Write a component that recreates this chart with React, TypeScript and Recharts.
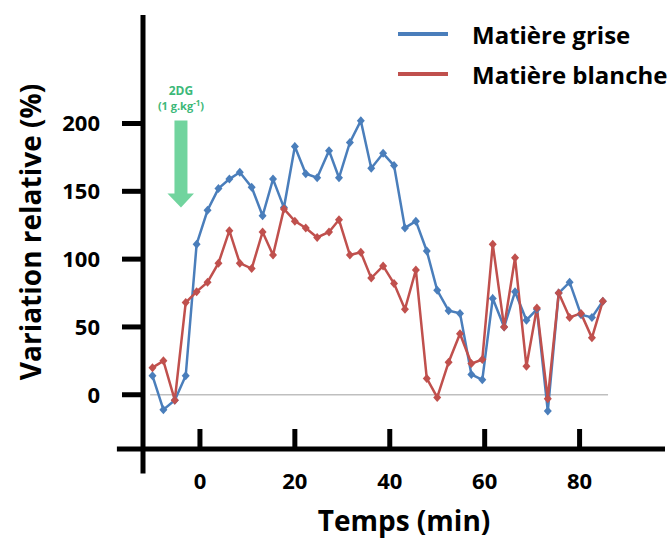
import { LineChart, Line, XAxis, YAxis, ReferenceLine, ReferenceDot, Legend } from "recharts"

// temps (min) de chaque acquisition
const times = [
  -10.0, -7.7, -5.3, -3.0, -0.7, 1.6, 3.9, 6.2, 8.4, 10.9, 13.2, 15.4, 17.7, 20.0,
  22.3, 24.7, 27.2, 29.3, 31.6, 33.9, 36.1, 38.6, 40.9, 43.2, 45.5, 47.8, 50.0, 52.4,
  54.8, 57.2, 59.5, 61.7, 64.1, 66.4, 68.8, 71.0, 73.3, 75.6, 77.9, 80.3, 82.6, 84.9,
]

const matiereGrise = [
  14, -11, -4, 14, 111, 136, 152, 159, 164, 153, 132, 159, 138, 183,
  163, 160, 180, 160, 186, 202, 167, 178, 169, 123, 128, 106, 77, 62,
  60, 15, 11, 71, 50, 76, 55, 63, -12, 75, 83, 59, 57, 69,
]

const matiereBlanche = [
  20, 25, -4, 68, 76, 83, 97, 121, 97, 93, 120, 103, 137, 128,
  123, 116, 120, 129, 103, 105, 86, 95, 82, 63, 92, 12, -2, 24,
  45, 23, 26, 111, 50, 101, 21, 64, -3, 75, 57, 60, 42, 69,
]

const seriesNames = ["Matière grise", "Matière blanche"]
const xTicks = [0, 20, 40, 60, 80]
const yTicks = [0, 50, 100, 150, 200]

const data = times.map((t, i) => ({
  t,
  grise: matiereGrise[i],
  blanche: matiereBlanche[i],
}))

const BLUE = "#4a7ebb"
const RED = "#c0504d"
const GREEN = "#3cb878"
const FONT = "'Open Sans', sans-serif"

function Diamond({ cx, cy, fill }: any) {
  if (cx == null || cy == null) return null
  return (
    <polygon
      points={`${cx},${cy - 4.5} ${cx + 4},${cy} ${cx},${cy + 4.5} ${cx - 4},${cy}`}
      fill={fill}
    />
  )
}

function XTick({ x, y, payload }: any) {
  return (
    <g>
      <line x1={x} x2={x} y1={y} y2={y - 20} stroke="#000" strokeWidth={5} />
      <text x={x} y={y + 40} textAnchor="middle" fontFamily={FONT} fontWeight={700} fontSize={22} fill="#000">
        {payload.value}
      </text>
    </g>
  )
}

// fleche verte "2DG"
function Arrow({ cx, cy }: any) {
  if (cx == null || cy == null) return null
  return (
    <g>
      <text x={cx} y={cy - 29} textAnchor="middle" fontFamily={FONT} fontWeight={700} fontSize={12} fill={GREEN}>
        2DG
      </text>
      <text x={cx} y={cy - 14} textAnchor="middle" fontFamily={FONT} fontWeight={700} fontSize={11} fill={GREEN}>
        (1 g.kg<tspan dy={-4} fontSize={8}>-1</tspan><tspan dy={4}>)</tspan>
      </text>
      <polygon
        points={`${cx - 6.5},${cy - 3} ${cx + 6.5},${cy - 3} ${cx + 6.5},${cy + 70} ${cx + 13},${cy + 70} ${cx},${cy + 84} ${cx - 13.5},${cy + 70} ${cx - 6.5},${cy + 70}`}
        fill="#62cf94"
        opacity={0.9}
      />
    </g>
  )
}

function renderLegend({ payload }: any) {
  const items = [...(payload || [])].sort(
    (a: any, b: any) => seriesNames.indexOf(a.value) - seriesNames.indexOf(b.value)
  )
  return (
    <div style={{ fontFamily: FONT }}>
      {items.map((entry: any) => (
        <div key={entry.value} style={{ display: "flex", alignItems: "center", height: 40 }}>
          <div style={{ width: 50, height: 4, background: entry.color, marginRight: 24 }} />
          <span style={{ fontSize: 24, fontWeight: 700, color: "#000" }}>{entry.value}</span>
        </div>
      ))}
    </div>
  )
}

export default function App() {
  return (
    <div style={{ position: "absolute", left: 0, top: 0, background: "#fff" }}>
      <LineChart width={670} height={538} data={data} margin={{ top: 15, right: 5, bottom: 0, left: 0 }}>
        <XAxis
          dataKey="t"
          type="number"
          domain={[-12, 98]}
          ticks={xTicks}
          axisLine={false}
          tickLine={false}
          tickSize={0}
          tickMargin={0}
          height={89}
          tick={<XTick />}
          label={{
            value: "Temps (min)",
            position: "insideBottom",
            offset: 7,
            style: { fontFamily: FONT, fontWeight: 700, fontSize: 28, fill: "#000" },
          }}
        />
        <YAxis
          type="number"
          domain={[-40, 280]}
          ticks={yTicks}
          width={143}
          axisLine={false}
          tickSize={21}
          tickMargin={22}
          tickLine={{ stroke: "#000", strokeWidth: 5 }}
          tick={{ fontFamily: FONT, fontWeight: 700, fontSize: 22, fill: "#000" }}
          label={{
            value: "Variation relative (%)",
            angle: -90,
            position: "insideLeft",
            offset: 31,
            style: { fontFamily: FONT, fontWeight: 700, fontSize: 28, fill: "#000", textAnchor: "middle" },
          }}
        />
        <Legend
          layout="vertical"
          align="center"
          verticalAlign="middle"
          wrapperStyle={{ top: 14, left: 398, width: 272 }}
          content={renderLegend}
        />
        <ReferenceLine
          segment={[{ x: -10.5, y: 0 }, { x: 86, y: 0 }]}
          stroke="#bfbfbf"
          strokeWidth={1.5}
        />
        <ReferenceLine
          segment={[{ x: -12, y: -58 }, { x: -12, y: 280 }]}
          stroke="#000"
          strokeWidth={5}
          ifOverflow="visible"
        />
        <ReferenceLine
          segment={[{ x: -17.5, y: -40 }, { x: 98, y: -40 }]}
          stroke="#000"
          strokeWidth={5}
          ifOverflow="visible"
        />
        <Line
          dataKey="grise"
          name="Matière grise"
          stroke={BLUE}
          strokeWidth={2.5}
          dot={(p: any) => <Diamond key={`g-${p.index}`} {...p} fill={BLUE} />}
          activeDot={false}
          isAnimationActive={false}
        />
        <Line
          dataKey="blanche"
          name="Matière blanche"
          stroke={RED}
          strokeWidth={2.5}
          dot={(p: any) => <Diamond key={`b-${p.index}`} {...p} fill={RED} />}
          activeDot={false}
          isAnimationActive={false}
        />
        <ReferenceDot x={-4} y={200} r={0} shape={<Arrow />} ifOverflow="visible" />
      </LineChart>
    </div>
  )
}
